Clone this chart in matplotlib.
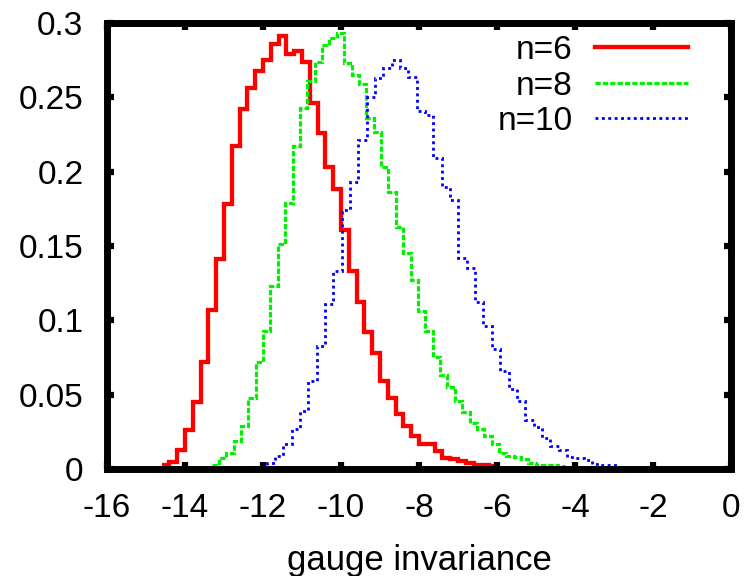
import matplotlib

matplotlib.use("Agg")
import matplotlib.pyplot as plt
import numpy as np

plt.rcParams["font.family"] = ["Liberation Sans", "DejaVu Sans"]
plt.rcParams["axes.unicode_minus"] = False
plt.rcParams["lines.scale_dashes"] = False

LABELS = ["n=6", "n=8", "n=10"]

# histogram bins: first edge and bin width
RED_START, RED_WIDTH = -14.6, 0.2
GREEN_START, GREEN_WIDTH = -13.32, 0.189
BLUE_START, BLUE_WIDTH = -12.33, 0.2137

RED = [0.003, 0.005, 0.013, 0.026, 0.045, 0.072, 0.107, 0.141, 0.178, 0.217,
       0.242, 0.256, 0.268, 0.275, 0.286, 0.291, 0.279, 0.281, 0.274, 0.246,
       0.226, 0.203, 0.188, 0.161, 0.133, 0.112, 0.092, 0.078, 0.059, 0.048,
       0.037, 0.029, 0.022, 0.017, 0.0166, 0.012, 0.0076, 0.007, 0.0054, 0.0038,
       0.003, 0.0025, 0.002]
GREEN = [0.003, 0.0076, 0.011, 0.019, 0.029, 0.048, 0.072, 0.093, 0.123, 0.151,
         0.179, 0.217, 0.243, 0.261, 0.274, 0.285, 0.290, 0.293, 0.273, 0.265,
         0.259, 0.236, 0.227, 0.203, 0.186, 0.163, 0.145, 0.127, 0.106, 0.093,
         0.075, 0.063, 0.055, 0.046, 0.038, 0.031, 0.027, 0.022, 0.0166, 0.011,
         0.0088, 0.008, 0.0065, 0.0042, 0.003, 0.0025, 0.0025, 0.002]
BLUE = [0.001, 0.0027, 0.004, 0.009, 0.0166, 0.027, 0.039, 0.059, 0.083, 0.111,
        0.133, 0.174, 0.193, 0.221, 0.250, 0.263, 0.270, 0.275, 0.270, 0.264,
        0.241, 0.238, 0.209, 0.190, 0.181, 0.142, 0.135, 0.112, 0.096, 0.081,
        0.066, 0.054, 0.046, 0.033, 0.028, 0.021, 0.0155, 0.0128, 0.0081, 0.0072,
        0.0059, 0.0036, 0.003, 0.0027]

X_TICKS = [-16, -14, -12, -10, -8, -6, -4, -2, 0]
X_TICK_LABELS = ["-16", "-14", "-12", "-10", "-8", "-6", "-4", "-2", "0"]
Y_TICKS = [0, 0.05, 0.1, 0.15, 0.2, 0.25, 0.3]
Y_TICK_LABELS = ["0", "0.05", "0.1", "0.15", "0.2", "0.25", "0.3"]
XLABEL = "gauge invariance"


def edges(start, width, values):
    return start + width * np.arange(len(values) + 1)


fig = plt.figure(figsize=(7.53, 5.76), dpi=100)
ax = fig.add_axes([0.1421, 0.1858, 0.8287, 0.7743])

ax.stairs(RED, edges(RED_START, RED_WIDTH, RED), baseline=None,
          color="#ff0000", linewidth=3.1, label=LABELS[0])
ax.stairs(GREEN, edges(GREEN_START, GREEN_WIDTH, GREEN), baseline=None,
          color="#00f000", linewidth=2.3, linestyle=(0, (3.8, 1.5)),
          label=LABELS[1])
ax.stairs(BLUE, edges(BLUE_START, BLUE_WIDTH, BLUE), baseline=None,
          color="#0000ff", linewidth=2.0, linestyle=(0, (2.1, 2.5)),
          label=LABELS[2])

ax.set_xlim(-16, 0)
ax.set_ylim(0, 0.3)
ax.set_xticks(X_TICKS, X_TICK_LABELS)
ax.set_yticks(Y_TICKS, Y_TICK_LABELS)
ax.tick_params(direction="in", length=5, width=4.5, top=True, right=True,
               labelsize=24, pad=17)
for spine in ax.spines.values():
    spine.set_linewidth(5)

ax.set_xlabel(XLABEL, fontsize=25)
ax.xaxis.set_label_coords(0.5, -0.2265)
ax.xaxis.label.set_verticalalignment("baseline")

ax.legend(loc="upper right", bbox_to_anchor=(0.931, 0.973), markerfirst=False,
          frameon=False, fontsize=24, handlelength=2.8, handletextpad=0.66,
          labelspacing=0.135, borderpad=0, borderaxespad=0)

fig.savefig("out.png", dpi=100)
